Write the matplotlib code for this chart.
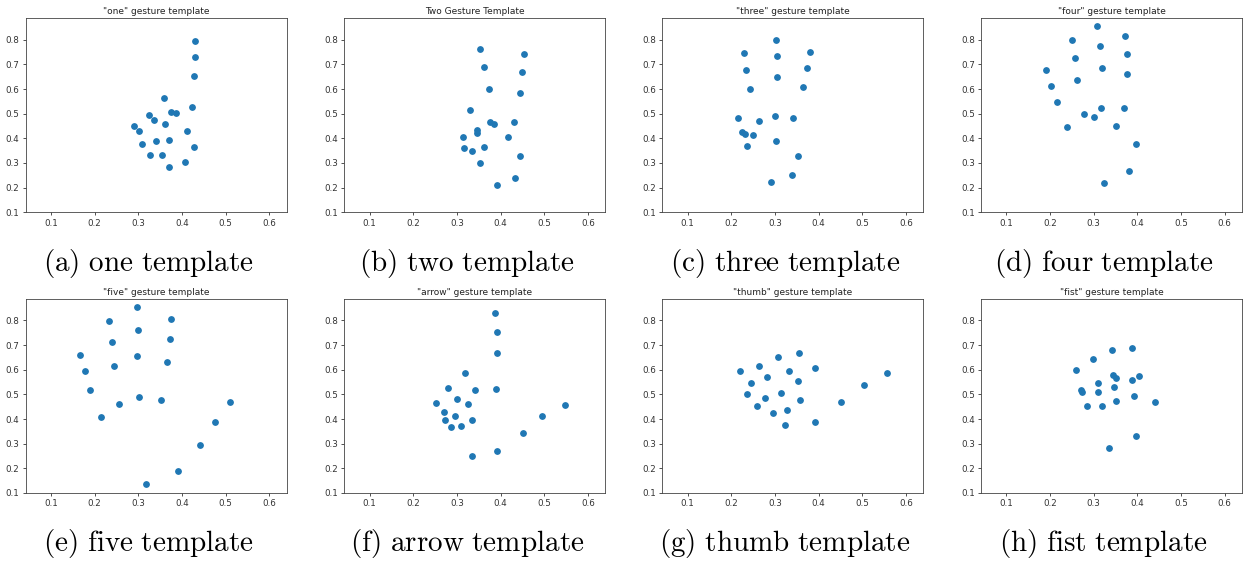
import matplotlib
matplotlib.use("Agg")
import matplotlib.pyplot as plt

plt.rcParams['mathtext.fontset'] = 'cm'

# hand landmark coordinates
one_x = [0.430, 0.430, 0.428, 0.358, 0.422, 0.375, 0.386, 0.324, 0.335, 0.362, 0.289,
         0.302, 0.411, 0.309, 0.340, 0.371, 0.428, 0.327, 0.355, 0.408, 0.370]
one_y = [0.795, 0.731, 0.654, 0.562, 0.526, 0.508, 0.501, 0.493, 0.474, 0.457, 0.449,
         0.430, 0.430, 0.376, 0.389, 0.392, 0.364, 0.331, 0.331, 0.303, 0.284]

two_x = [0.352, 0.454, 0.361, 0.450, 0.374, 0.444, 0.330, 0.376, 0.386, 0.431, 0.345,
         0.347, 0.313, 0.416, 0.317, 0.334, 0.363, 0.445, 0.353, 0.434, 0.392]
two_y = [0.764, 0.741, 0.691, 0.669, 0.599, 0.584, 0.514, 0.466, 0.460, 0.467, 0.432,
         0.420, 0.404, 0.404, 0.359, 0.348, 0.363, 0.329, 0.302, 0.238, 0.212]

three_x = [0.302, 0.229, 0.381, 0.304, 0.234, 0.374, 0.304, 0.244, 0.364, 0.215, 0.300,
           0.342, 0.263, 0.224, 0.231, 0.250, 0.302, 0.235, 0.352, 0.339, 0.290]
three_y = [0.799, 0.747, 0.750, 0.735, 0.676, 0.685, 0.647, 0.600, 0.607, 0.481, 0.492,
           0.481, 0.470, 0.427, 0.418, 0.414, 0.389, 0.368, 0.330, 0.250, 0.224]

four_x = [0.308, 0.372, 0.250, 0.314, 0.376, 0.257, 0.320, 0.191, 0.377, 0.263, 0.202,
          0.216, 0.318, 0.370, 0.278, 0.302, 0.351, 0.238, 0.396, 0.381, 0.324]
four_y = [0.857, 0.814, 0.799, 0.776, 0.742, 0.724, 0.684, 0.677, 0.661, 0.637, 0.614,
          0.547, 0.524, 0.522, 0.499, 0.488, 0.451, 0.445, 0.378, 0.268, 0.219]

five_x = [0.297, 0.376, 0.234, 0.299, 0.373, 0.239, 0.166, 0.297, 0.365, 0.244, 0.177,
          0.189, 0.301, 0.353, 0.256, 0.510, 0.215, 0.476, 0.441, 0.391, 0.317]
five_y = [0.854, 0.807, 0.796, 0.762, 0.726, 0.714, 0.660, 0.655, 0.632, 0.615, 0.593,
          0.519, 0.488, 0.478, 0.462, 0.470, 0.407, 0.388, 0.293, 0.188, 0.138]

arrow_x = [0.388, 0.391, 0.391, 0.319, 0.279, 0.341, 0.389, 0.301, 0.253, 0.326, 0.548,
           0.270, 0.296, 0.496, 0.273, 0.334, 0.287, 0.309, 0.451, 0.393, 0.334]
arrow_y = [0.831, 0.754, 0.666, 0.585, 0.526, 0.518, 0.522, 0.481, 0.464, 0.460, 0.457,
           0.427, 0.412, 0.412, 0.397, 0.397, 0.368, 0.372, 0.343, 0.272, 0.250]

thumb_x = [0.356, 0.306, 0.264, 0.392, 0.221, 0.333, 0.557, 0.283, 0.245, 0.353, 0.505,
           0.315, 0.237, 0.277, 0.357, 0.452, 0.258, 0.327, 0.295, 0.391, 0.323]
thumb_y = [0.669, 0.651, 0.615, 0.608, 0.595, 0.593, 0.585, 0.569, 0.547, 0.555, 0.538,
           0.507, 0.503, 0.485, 0.477, 0.469, 0.451, 0.438, 0.423, 0.389, 0.374]

fist_x = [0.389, 0.343, 0.298, 0.260, 0.344, 0.351, 0.404, 0.387, 0.311, 0.272, 0.274,
          0.309, 0.347, 0.393, 0.352, 0.441, 0.285, 0.319, 0.397, 0.335]
fist_y = [0.689, 0.680, 0.645, 0.599, 0.578, 0.565, 0.576, 0.560, 0.546, 0.518, 0.511,
          0.511, 0.530, 0.492, 0.473, 0.470, 0.453, 0.451, 0.331, 0.284]

titles = ['"one" gesture template', 'Two Gesture Template', '"three" gesture template',
          '"four" gesture template', '"five" gesture template', '"arrow" gesture template',
          '"thumb" gesture template', '"fist" gesture template']
captions = ['(a) one template', '(b) two template', '(c) three template', '(d) four template',
            '(e) five template', '(f) arrow template', '(g) thumb template', '(h) fist template']

xs = [one_x, two_x, three_x, four_x, five_x, arrow_x, thumb_x, fist_x]
ys = [one_y, two_y, three_y, four_y, five_y, arrow_y, thumb_y, fist_y]

fig = plt.figure(figsize=(12.46, 5.62), dpi=100)

W, H = 1246, 562
lefts = [25.7, 344.3, 662.3, 981]
tops = [18.3, 299]
aw, ah = 261, 194

for i in range(8):
    row, col = i // 4, i % 4
    ax = fig.add_axes([lefts[col] / W, (H - tops[row] - ah) / H, aw / W, ah / H])
    ax.scatter(xs[i], ys[i], s=15, color='#1f77b4')
    ax.set_xlim(0.042, 0.64)
    ax.set_ylim(0.1, 0.887)
    ax.set_xticks([0.1, 0.2, 0.3, 0.4, 0.5, 0.6])
    ax.set_yticks([0.1, 0.2, 0.3, 0.4, 0.5, 0.6, 0.7, 0.8])
    ax.tick_params(labelsize=6.3, length=2.5, width=0.6, pad=2, colors='#333333')
    for sp in ax.spines.values():
        sp.set_linewidth(0.6)
        sp.set_color('#444444')
    ax.set_title(titles[i], fontsize=6.5, pad=3, color='#222222')

    # caption under the subplot
    cx = (lefts[col] + aw / 2 - 8) / W
    cy = 1 - (263 if row == 0 else 544) / H
    label = r'$\mathrm{' + captions[i].replace(' ', r'\ ') + '}$'
    fig.text(cx, cy, label, ha='center', va='center', fontsize=21)

fig.savefig('out.png', dpi=100)
